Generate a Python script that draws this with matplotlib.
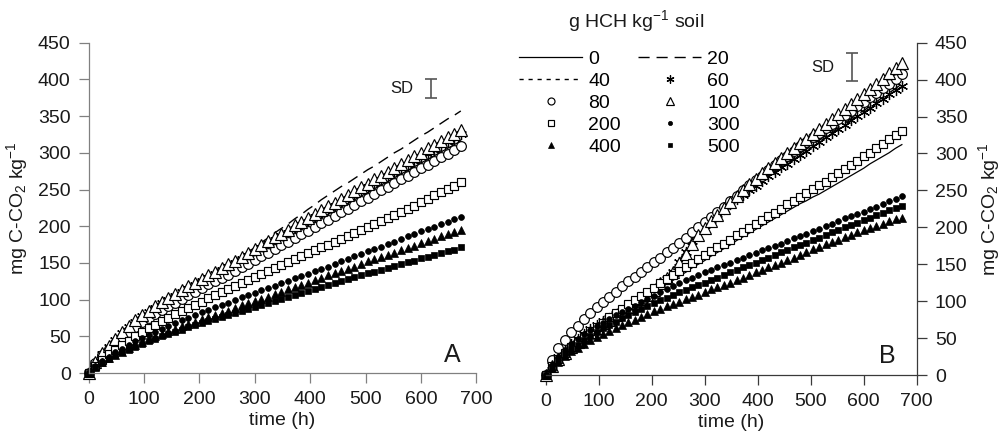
import matplotlib
matplotlib.use('Agg')
import matplotlib.pyplot as plt
from matplotlib.lines import Line2D

plt.rcParams['font.family'] = ['Liberation Sans', 'DejaVu Sans']
plt.rcParams['mathtext.fontset'] = 'custom'
plt.rcParams['mathtext.rm'] = 'Liberation Sans'
plt.rcParams['mathtext.it'] = 'Liberation Sans:italic'

# ---------------- data ----------------
time_h = [0, 12, 24, 36, 48, 60, 72, 84, 96, 108, 120, 132, 144, 156, 168, 180, 192, 204, 216, 228,
          240, 252, 264, 276, 288, 300, 312, 324, 336, 348, 360, 372, 384, 396, 408, 420, 432, 444, 456,
          468, 480, 492, 504, 516, 528, 540, 552, 564, 576, 588, 600, 612, 624, 636, 648, 660, 672]

doses = ['0', '20', '40', '60', '80', '100', '200', '300', '400', '500']

# Panel A  (mg C-CO2 kg-1)
A_0 = [0,14,25,35,44,52,60,67,74,80,86,91,96,102,107,112,117,122,127,131,136,141,146,151,156,161,166,171,176,181,186,191,196,201,206,211,216,221,226,231,236,241,246,251,256,261,266,271,276,281,286,291,296,301,306,311,316]
A_20 = [0,16,28,38,48,57,65,73,80,86,92,98,103,109,114,119,124,129,134,139,144,149,154,159,165,171,178,184,191,197,203,210,216,223,229,236,242,248,254,259,265,271,277,282,288,294,300,305,311,317,323,328,334,340,346,351,357]
A_40 = [0,15,27,37,46,55,63,71,78,84,90,96,101,107,112,117,122,127,132,137,142,147,152,157,162,167,173,178,183,188,193,198,204,209,214,219,224,229,235,240,245,250,255,261,266,271,276,281,287,292,297,302,307,313,318,323,328]
A_60 = [0,14,26,36,45,54,62,70,77,83,89,95,100,105,110,115,120,125,130,135,140,145,150,155,160,165,170,176,181,186,191,196,201,206,212,217,222,227,232,237,242,248,253,258,263,268,273,279,284,289,294,299,304,310,315,320,325]
A_80 = [0,13,24,33,41,49,56,63,69,75,81,86,91,96,101,106,111,116,121,125,130,134,139,144,149,154,159,164,169,174,179,184,189,194,199,204,209,214,219,224,229,234,239,244,249,254,259,264,269,274,279,284,289,294,299,304,309]
A_100 = [0,15,27,37,47,56,64,72,79,85,91,97,102,108,113,118,123,128,133,138,143,148,153,158,164,169,174,180,185,190,195,201,206,211,216,222,227,232,237,243,248,253,258,264,269,274,279,285,290,295,300,306,311,316,321,326,331]
A_200 = [0,10,18,26,32,38,44,50,56,61,66,71,75,80,84,89,93,97,102,106,110,114,119,123,127,131,135,139,143,147,151,155,159,163,167,171,175,179,183,187,191,195,199,203,207,211,215,220,224,228,233,237,242,246,251,255,260]
A_300 = [0,9,16,22,28,33,38,43,48,52,56,60,64,68,72,75,79,83,86,90,93,96,100,103,106,109,113,116,119,122,126,129,132,135,139,142,145,148,152,155,159,162,166,169,172,176,179,183,186,189,193,196,199,203,206,210,213]
A_400 = [0,8,15,20,25,29,34,38,42,46,50,53,57,60,64,67,70,73,76,79,82,85,89,92,95,98,101,104,107,110,114,117,120,123,127,130,133,136,139,142,145,148,152,155,158,161,164,167,170,173,177,180,183,186,189,192,195]
A_500 = [0,8,14,19,24,28,32,36,40,43,47,50,53,56,59,62,65,68,71,73,76,79,82,84,87,90,93,95,98,101,104,106,109,112,115,117,120,123,126,128,131,133,136,138,141,143,146,148,151,153,156,158,161,163,166,168,171]

# Panel B
B_0 = [0,11,20,28,35,42,48,54,60,66,72,78,84,90,95,101,106,112,117,123,128,134,139,145,150,155,161,166,171,176,182,187,192,197,202,207,212,217,222,227,232,236,241,245,250,255,260,265,270,275,280,286,291,296,301,307,312]
B_20 = [0,15,26,35,43,50,57,63,69,74,79,83,88,92,97,101,106,113,122,132,142,155,169,183,196,204,212,219,226,233,239,245,252,258,264,270,276,282,288,294,300,306,312,318,324,329,335,341,347,353,358,364,370,376,382,388,394]
B_40 = [0,13,23,31,39,46,52,59,65,71,76,81,86,91,96,101,106,112,120,129,138,150,163,176,189,198,207,215,223,231,239,247,254,261,268,275,282,288,294,300,306,312,318,324,330,336,342,348,354,360,366,372,378,384,390,396,402]
B_60 = [0,14,25,34,42,49,56,62,68,73,77,82,86,91,95,100,104,111,120,130,140,153,167,181,195,203,210,218,225,231,238,244,250,256,263,269,275,281,286,292,298,304,310,316,322,328,333,339,345,351,356,362,368,374,380,386,392]
B_80 = [0,20,36,48,58,67,76,84,92,99,106,113,120,127,133,140,146,153,159,166,172,179,186,193,200,207,214,221,228,235,243,250,257,264,270,277,284,291,297,304,310,316,322,328,334,340,346,352,358,364,370,376,382,388,394,401,407]
B_100 = [0,12,22,30,38,45,51,58,64,70,75,81,86,92,97,103,108,115,124,132,140,152,164,177,190,199,208,217,226,234,242,250,258,265,273,280,287,294,301,307,314,320,327,333,340,347,353,360,367,374,380,387,394,401,409,416,423]
B_200 = [0,12,22,30,38,45,52,59,65,71,78,84,90,96,102,107,113,118,124,130,135,141,146,152,157,162,168,173,178,183,189,194,199,204,210,215,220,225,231,236,241,246,252,257,262,268,274,279,285,290,296,301,307,313,319,325,331]
B_300 = [0,14,24,34,42,49,55,61,66,71,76,81,85,90,94,99,103,107,112,116,120,124,128,131,135,139,142,146,149,152,156,159,162,165,169,172,175,178,182,185,188,191,195,198,202,205,208,212,215,218,221,225,228,231,235,238,242]
B_400 = [0,10,18,26,32,37,42,47,52,56,60,64,68,72,75,79,82,86,89,93,96,99,103,106,109,112,116,119,122,125,129,132,136,139,142,146,149,152,156,159,163,166,170,173,177,180,183,187,190,193,196,199,202,205,208,211,213]
B_500 = [0,11,20,28,35,41,47,53,58,63,68,72,77,81,85,89,93,97,101,104,108,112,115,119,122,125,129,132,135,139,142,146,149,152,156,159,162,166,169,173,176,179,183,186,189,193,196,200,203,206,210,213,216,219,223,226,229]

panel_A = [A_0, A_20, A_40, A_60, A_80, A_100, A_200, A_300, A_400, A_500]
panel_B = [B_0, B_20, B_40, B_60, B_80, B_100, B_200, B_300, B_400, B_500]

# SD bars: (time, value, half-length)
sd_A = (619, 387, 13)
sd_B = (577, 417, 19)

# ---------------- styles ----------------
K = 'black'
styles = {
    '0':   dict(ls='-', lw=0.9, marker=None),
    '20':  dict(ls=(0, (8, 5)), lw=1.0, marker=None),
    '40':  dict(ls=(0, (3, 3.5)), lw=1.0, marker=None),
    '60':  dict(ls='none', marker=(6, 2, 0), ms=8, mec=K, mew=0.9),
    '80':  dict(ls='none', marker='o', ms=7.0, mfc='white', mec=K, mew=0.85),
    '100': dict(ls='none', marker='^', ms=8.0, mfc='white', mec=K, mew=0.85),
    '200': dict(ls='none', marker='s', ms=6.2, mfc='white', mec=K, mew=0.85),
    '300': dict(ls='none', marker='o', ms=4.2, mfc=K, mec=K, mew=0.5),
    '400': dict(ls='none', marker='^', ms=5.6, mfc=K, mec=K, mew=0.5),
    '500': dict(ls='none', marker='s', ms=4.6, mfc=K, mec=K, mew=0.5),
}

W, H = 1003, 443
fig = plt.figure(figsize=(W / 100, H / 100), dpi=100)

axA = fig.add_axes([88.7 / W, 70 / H, 387.6 / W, 330.3 / H])
axB = fig.add_axes([545.7 / W, 68 / H, 371.0 / W, 332.3 / H])

FS = 14
ylab = 'mg C-CO$_2$ kg$^{-1}$'


def draw(ax, data, spine_col):
    for d, y in zip(doses, data):
        ax.plot(time_h, y, color=K, clip_on=False, **styles[d])
    ax.set_xlim(0, 700)
    ax.set_ylim(0, 450)
    ax.set_xticks(range(0, 701, 100))
    ax.set_yticks(range(0, 451, 50))
    ax.tick_params(direction='out', length=7, width=0.9, color=spine_col,
                   labelsize=FS, labelcolor='#1a1a1a', pad=6)
    for s in ['top', 'left', 'right', 'bottom']:
        ax.spines[s].set_color(spine_col)
        ax.spines[s].set_linewidth(0.9)
    ax.set_xlabel('time (h)', fontsize=FS, labelpad=3, color='#1a1a1a')


draw(axA, panel_A, '#808080')
axA.spines['top'].set_visible(False)
axA.spines['right'].set_visible(False)
axA.set_ylabel(ylab, fontsize=FS, labelpad=6, color='#1a1a1a')

draw(axB, panel_B, '#3a3a3a')
axB.spines['top'].set_visible(False)
axB.spines['left'].set_visible(False)
axB.yaxis.tick_right()
axB.yaxis.set_label_position('right')
axB.set_ylabel(ylab, fontsize=FS, labelpad=6, color='#1a1a1a', rotation=90)

# SD bars
for ax, (sx, sy, sh) in [(axA, sd_A), (axB, sd_B)]:
    ax.errorbar([sx], [sy], yerr=[sh], fmt='none', ecolor='#555555',
                elinewidth=1.2, capsize=4, capthick=1.2)
axA.text(sd_A[0] - 53, sd_A[1], 'SD', fontsize=12, ha='center', va='center', color='#1a1a1a')
axB.text(sd_B[0] - 54, sd_B[1], 'SD', fontsize=12, ha='center', va='center', color='#1a1a1a')

axA.text(657, 25, 'A', fontsize=18, ha='center', va='center', color='#1a1a1a')
axB.text(645, 26, 'B', fontsize=18, ha='center', va='center', color='#1a1a1a')

# legend
handles = {}
for d in doses:
    handles[d] = Line2D([], [], color=K, **styles[d])
order = ['0', '40', '80', '200', '400', '20', '60', '100', '300', '500']
fig.legend([handles[d] for d in order], order, loc='upper left',
           bbox_to_anchor=(519 / W, 1 - 50 / H), ncol=2, frameon=False,
           fontsize=FS, handlelength=3.25, handletextpad=0.3, columnspacing=0.9,
           labelspacing=0.23, borderpad=0, borderaxespad=0, numpoints=1,
           markerscale=0.72)
fig.text(636 / W, 1 - 21 / H, 'g HCH kg$^{-1}$ soil', fontsize=FS, ha='center',
         va='center', color='#1a1a1a')

fig.savefig('out.png', dpi=100)
